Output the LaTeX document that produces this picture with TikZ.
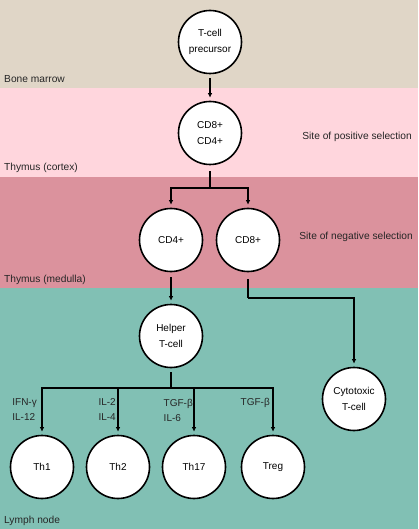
\documentclass[tikz,border=0pt]{standalone}
\usepackage{fontspec}
\setmainfont{Liberation Sans}
\usetikzlibrary{arrows.meta}
\definecolor{bmcol}{RGB}{224,214,199}
\definecolor{cortcol}{RGB}{255,214,221}
\definecolor{medcol}{RGB}{219,146,157}
\definecolor{lymcol}{RGB}{129,192,180}
\begin{document}
\begin{tikzpicture}[x=1pt,y=-1pt,
  cell/.style={circle,draw=black,fill=white,line width=1.6pt,minimum size=63pt,inner sep=0pt,align=center,font=\fontsize{10}{16}\selectfont},
  conn/.style={line width=1.3pt,-{Latex[length=4.5pt,width=4.5pt]},shorten >=3pt},
  plain/.style={line width=1.3pt},
  region/.style={font=\fontsize{10.2}{12}\selectfont,inner sep=0pt,anchor=west,text=black!85},
  site/.style={font=\fontsize{10.2}{12}\selectfont,inner sep=0pt,anchor=east,text=black!85},
  cyto/.style={font=\fontsize{10}{15}\selectfont,inner sep=0pt,anchor=east,align=left,text=black!85}]
\fill[bmcol] (0,0) rectangle (418,88);
\fill[cortcol] (0,88) rectangle (418,177);
\fill[medcol] (0,177) rectangle (418,288);
\fill[lymcol] (0,288) rectangle (418,529);
\useasboundingbox (0,0) rectangle (418,529);

\node[region] (rbm) at (4,79) {Bone marrow};
\node[region] (rcx) at (4,168) {Thymus (cortex)};
\node[region] (rmd) at (4,280) {Thymus (medulla)};
\node[region] (rly) at (4,521) {Lymph node};
\node[site] (spos) at (412,137) {Site of positive selection};
\node[site] (sneg) at (413,237) {Site of negative selection};

\node[cell] (pre) at (210,42) {T-cell\\precursor};
\node[cell] (dp) at (210,133) {CD8+\\CD4+};
\node[cell] (cd4) at (171,240) {CD4+};
\node[cell] (cd8) at (248,240) {CD8+};
\node[cell] (hel) at (171,336) {Helper\\T-cell};
\node[cell] (cyt) at (354,399) {Cytotoxic\\T-cell};
\node[cell] (th1) at (42,467) {Th1};
\node[cell] (th2) at (118,467) {Th2};
\node[cell] (th17) at (194,467) {Th17};
\node[cell] (treg) at (273,467) {Treg};

\coordinate (j1) at (210,188);
\coordinate (j2) at (248,298);
\coordinate (j3) at (171,388);

\draw[conn,shorten <=4pt] (pre) -- (dp);
\draw[plain,shorten <=6pt] (dp) -- (j1);
\draw[conn] (j1) -| (cd4);
\draw[conn] (j1) -| (cd8);
\draw[conn,shorten <=5pt] (cd4) -- (hel);
\draw[plain,shorten <=7pt] (cd8) -- (j2);
\draw[conn] (j2) -| (cyt);
\draw[plain,shorten <=4pt] (hel) -- (j3);
\draw[conn] (j3) -| (th1);
\draw[conn] (j3) -| (th2);
\draw[conn] (j3) -| (th17);
\draw[conn] (j3) -| (treg);

\node[cyto] (l1) at (37,410) {IFN-γ\\IL-12};
\node[cyto] (l2) at (116,410) {IL-2\\IL-4};
\node[cyto] (l3) at (193,410) {TGF-β\\IL-6};
\node[cyto] (l4) at (270,403) {TGF-β};
\end{tikzpicture}
\end{document}
